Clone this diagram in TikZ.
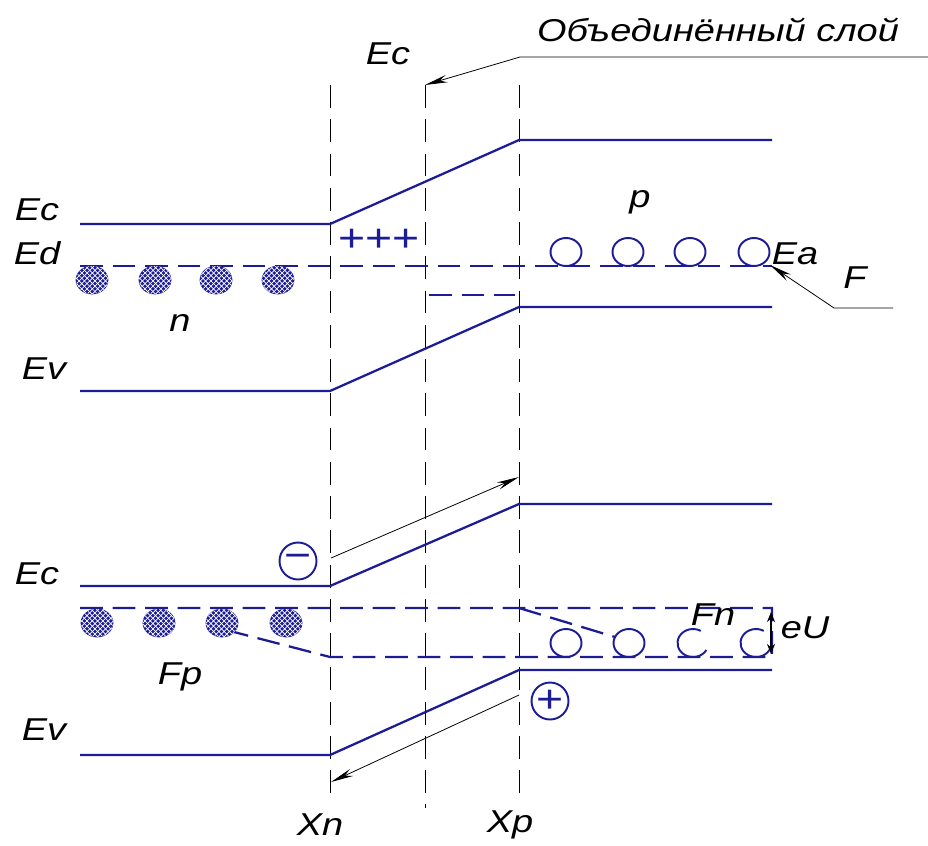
\documentclass[tikz,border=0pt]{standalone}
\usepackage{fontspec}
\newfontfamily\lblfont[FakeStretch=1.2]{Liberation Sans}
\usetikzlibrary{arrows.meta,shapes.geometric,patterns}
\definecolor{bandblue}{RGB}{28,28,150}

\begin{document}
\begin{tikzpicture}[x=0.02cm,y=-0.02cm,
  band/.style={bandblue,line width=1.3pt},
  lvl/.style={bandblue,line width=1.3pt,dash pattern=on 13pt off 5.5pt},
  bnd/.style={black,line width=0.5pt,dash pattern=on 13pt off 6.5pt},
  el/.style={ellipse,draw=bandblue,fill=bandblue,minimum width=6.4mm,minimum height=5.6mm,
             inner sep=0pt,postaction={pattern=crosshatch,pattern color=white}},
  ho/.style={ellipse,minimum width=6.2mm,minimum height=5.6mm,inner sep=0pt},
  hd/.style={ho,draw=bandblue,line width=1.1pt},
  chg/.style={circle,draw=bandblue,line width=1.1pt,minimum size=7.4mm,inner sep=0pt,
              text=bandblue,font=\lblfont\fontsize{22}{22}\selectfont},
  lab/.style={font=\lblfont\itshape\fontsize{18}{20}\selectfont,inner sep=0pt},
  a/.style={-{Stealth[length=4.5mm,width=1.5mm]},black,line width=0.45pt}]
\useasboundingbox (0,0) rectangle (928,845);
% boundaries of the layer
\coordinate (xnT) at (330,85);  \coordinate (xnB) at (330,795);
\coordinate (mT) at (425,85);   \coordinate (mB) at (425,808);
\coordinate (xpT) at (519,85);  \coordinate (xpB) at (519,800);
\draw[bnd] (xnT) -- (xnB);
\draw[bnd] (mT) -- (mB);
\draw[bnd] (xpT) -- (xpB);
% equilibrium
\coordinate (ec1) at (80,224); \coordinate (ec2) at (330,224);
\coordinate (ec3) at (519,140); \coordinate (ec4) at (772,140);
\coordinate (ev1) at (80,391); \coordinate (ev2) at (330,391);
\coordinate (ev3) at (519,307); \coordinate (ev4) at (772,307);
\coordinate (ed1) at (80,266); \coordinate (ea2) at (772,266);
\coordinate (sh1) at (429,295); \coordinate (sh2) at (515,295);
\draw[band] (ec1) -- (ec2) -- (ec3) -- (ec4);
\draw[band] (ev1) -- (ev2) -- (ev3) -- (ev4);
\draw[lvl] (ed1) -- (ea2);
\draw[lvl] (sh1) -- (sh2);
\foreach \x [count=\i] in {92,155,216,278}
  \node[el] (d\i) at (\x,280) {};
\foreach \x [count=\i] in {566,628,690,754}
  \node[hd] (h\i) at (\x,252) {};
\node[text=bandblue,inner sep=0pt,font=\lblfont\fontsize{22}{22}\selectfont] (pls) at (379,240) {+++};
% bias
\coordinate (bc1) at (80,586); \coordinate (bc2) at (330,586);
\coordinate (bc3) at (519,504); \coordinate (bc4) at (772,504);
\coordinate (bv1) at (80,755); \coordinate (bv2) at (330,755);
\coordinate (bv3) at (519,670); \coordinate (bv4) at (772,670);
\coordinate (fn1) at (80,608); \coordinate (fn2) at (772,608);
\coordinate (fp2) at (772,657); \coordinate (fp1) at (330,657);
\coordinate (fpe) at (234,632);
\coordinate (fns) at (519,608); \coordinate (fne) at (615,637);
\draw[band] (bc1) -- (bc2) -- (bc3) -- (bc4);
\draw[band] (bv1) -- (bv2) -- (bv3) -- (bv4);
\draw[lvl] (fn1) -- (fn2) -- (fp2) -- (fp1) -- (fpe);
\draw[lvl] (fns) -- (fne);
\foreach \x [count=\i] in {97,159,222,286}
  \node[el] (b\i) at (\x,623) {};
\node[hd] (g1) at (566,643) {};
\node[hd] (g2) at (629,643) {};
\node[ho] (g3) at (693,643) {};
\node[ho] (g4) at (756,643) {};
\draw[bandblue,line width=1.1pt] (g3) ++(60:3.1mm and 2.8mm) arc[start angle=60,end angle=330,x radius=3.1mm,y radius=2.8mm];
\draw[bandblue,line width=1.1pt] (g4) ++(60:3.1mm and 2.8mm) arc[start angle=60,end angle=330,x radius=3.1mm,y radius=2.8mm];
\coordinate (uT) at (771,612); \coordinate (uB) at (771,654);
\draw[{Stealth[length=2mm,width=1.6mm]}-{Stealth[length=2mm,width=1.6mm]},black,line width=1.2pt] (uT) -- (uB);
\node[chg] (mn) at (298,561) {−};
\node[chg] (pn) at (550,701) {+};
\coordinate (ms) at (331,558); \coordinate (mt) at (519,477);
\coordinate (ps) at (519,695); \coordinate (pt) at (331,782);
\draw[a] (ms) -- (mt);
\draw[a] (ps) -- (pt);
% labels
\node[lab] (lyr) at (718,30) {Объединённый слой};
\coordinate (lyrE) at (928,57); \coordinate (lyrK) at (520,57);
\draw[a] (lyrE) -- (lyrK) -- (mT);
\node[lab] (ect) at (388,54) {Ec};
\node[lab] (ec) at (37,210) {Ec};
\node[lab] (ed) at (37,253) {Ed};
\node[lab] (n) at (180,323) {n};
\node[lab] (ev) at (44,369) {Ev};
\node[lab] (p) at (640,202) {p};
\node[lab] (ea) at (795,254) {Ea};
\node[lab] (f) at (855,278) {F};
\coordinate (fE) at (893,308); \coordinate (fK) at (834,308); \coordinate (fT) at (770,265);
\draw[a] (fE) -- (fK) -- (fT);
\node[lab] (ecb) at (37,574) {Ec};
\node[lab] (evb) at (44,730) {Ev};
\node[lab] (fp) at (180,677) {Fp};
\node[lab] (fn) at (713,615) {Fn};
\node[lab] (eu) at (805,628) {eU};
\node[lab] (xn) at (320,825) {Xn};
\node[lab] (xp) at (510,825) {Xp};
\end{tikzpicture}
\end{document}
